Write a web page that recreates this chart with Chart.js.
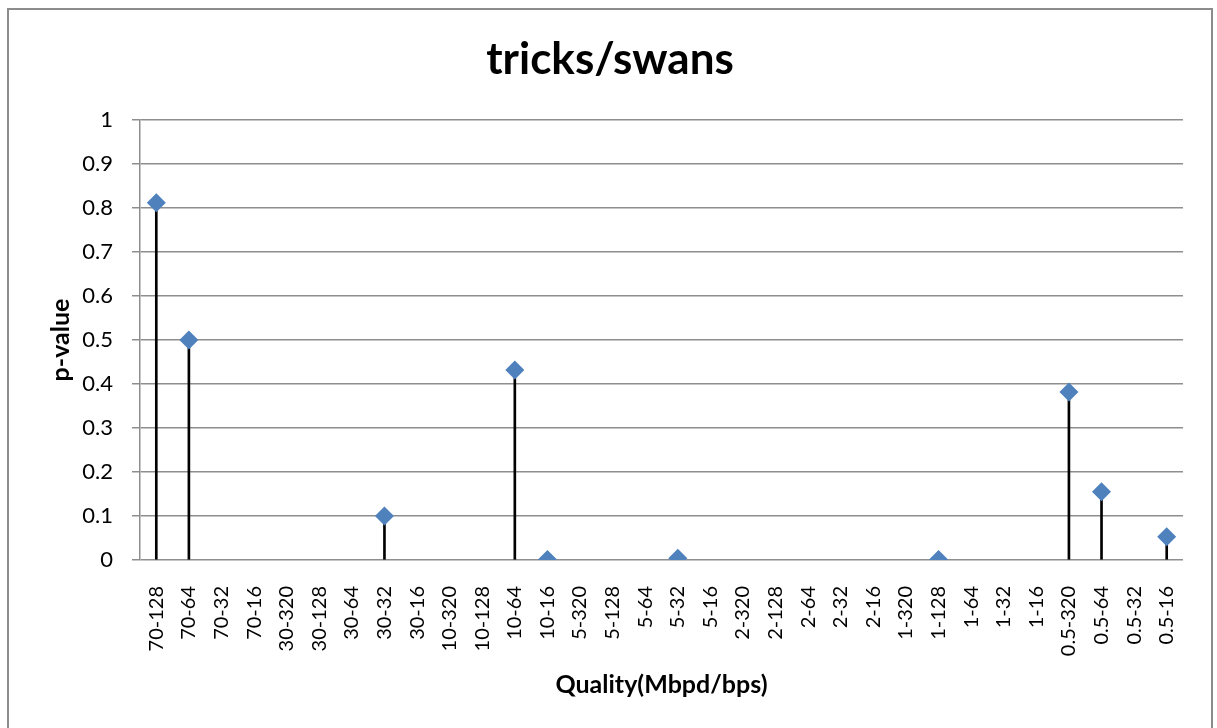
<!DOCTYPE html>
<html lang="en">
<head>
    <meta charset="UTF-8">
    <title>tricks/swans</title>
    <script src="https://cdn.jsdelivr.net/npm/chart.js"></script>
    <style>
        body {
            margin: 0;
            background: #ffffff;
            overflow: hidden;
        }
        #marco {
            position: absolute;
            left: 7px;
            top: 8px;
            width: 1202px;
            height: 740px;
            border: 2px solid #8c8c8c;
        }
        #caja {
            position: absolute;
            left: 0;
            top: 0;
            width: 1217px;
            height: 728px;
        }
    </style>
</head>
<body>
    <div id="marco"></div>
    <div id="caja"><canvas id="grafico"></canvas></div>

    <script>
        const categorias = [
            "70-128", "70-64", "70-32", "70-16",
            "30-320", "30-128", "30-64", "30-32", "30-16",
            "10-320", "10-128", "10-64", "10-16",
            "5-320", "5-128", "5-64", "5-32", "5-16",
            "2-320", "2-128", "2-64", "2-32", "2-16",
            "1-320", "1-128", "1-64", "1-32", "1-16",
            "0.5-320", "0.5-64", "0.5-32", "0.5-16"
        ];

        // p-value por categoria (null = sin dato)
        const pValores = [
            0.812, 0.5, null, null,
            null, null, null, 0.1, null,
            null, null, 0.432, 0.001,
            null, null, null, 0.004, null,
            null, null, null, null, null,
            null, 0.001, null, null, null,
            0.382, 0.155, null, 0.053
        ];

        const ticksY = [0, 0.1, 0.2, 0.3, 0.4, 0.5, 0.6, 0.7, 0.8, 0.9, 1];

        const titulo = 'tricks/swans';
        const fuente = "Lato, 'Open Sans', sans-serif";
        const gris = '#8e8e8e';

        // titulo dibujado a mano para poder centrarlo donde esta en el original
        const pluginTitulo = {
            id: 'pluginTitulo',
            afterDraw(chart) {
                const c = chart.ctx;
                c.save();
                c.font = 'bold 44px ' + fuente;
                c.fillStyle = '#000000';
                c.textAlign = 'center';
                c.textBaseline = 'middle';
                c.fillText(titulo, 610, 60);
                c.restore();
            }
        };

        const ctx = document.getElementById('grafico').getContext('2d');

        new Chart(ctx, {
            data: {
                labels: categorias,
                datasets: [
                    {
                        type: 'line',
                        label: 'p-value',
                        data: pValores,
                        showLine: false,
                        pointStyle: 'rectRot',
                        pointRadius: 9.5,
                        pointBackgroundColor: '#4f81bd',
                        pointBorderColor: '#4f81bd',
                        pointBorderWidth: 0,
                        order: 0
                    },
                    {
                        type: 'bar',
                        label: 'lineas',
                        data: pValores,
                        backgroundColor: '#000000',
                        barThickness: 2,
                        order: 1
                    }
                ]
            },
            plugins: [pluginTitulo],
            options: {
                responsive: true,
                maintainAspectRatio: false,
                animation: false,
                layout: {
                    padding: { left: 0, right: 34, top: 120, bottom: 0 }
                },
                plugins: {
                    legend: { display: false },
                    tooltip: { enabled: false },
                    title: { display: false }
                },
                scales: {
                    x: {
                        grid: { display: false },
                        border: { display: false },
                        afterFit: (s) => { s.height = 168; },
                        ticks: {
                            minRotation: 90,
                            maxRotation: 90,
                            autoSkip: false,
                            padding: 18,
                            color: '#000000',
                            font: { family: fuente, size: 20 }
                        },
                        title: {
                            display: true,
                            text: 'Quality(Mbpd/bps)',
                            color: '#000000',
                            font: { family: fuente, size: 25, weight: 'bold' },
                            padding: { top: 4, bottom: 28 }
                        }
                    },
                    y: {
                        min: 0,
                        max: 1,
                        afterFit: (s) => { s.width = 140; },
                        afterBuildTicks: (s) => { s.ticks = ticksY.map(v => ({ value: v })); },
                        grid: {
                            color: gris,
                            lineWidth: 1.5,
                            tickLength: 8
                        },
                        border: { display: true, color: gris, width: 1.5 },
                        ticks: {
                            padding: 19,
                            color: '#000000',
                            font: { family: fuente, size: 22 },
                            callback: (v) => String(Math.round(v * 10) / 10)
                        },
                        title: {
                            display: true,
                            text: 'p-value',
                            color: '#000000',
                            font: { family: fuente, size: 25, weight: 'bold' },
                            padding: { top: 46, bottom: 4 }
                        }
                    }
                }
            }
        });
    </script>
</body>
</html>
